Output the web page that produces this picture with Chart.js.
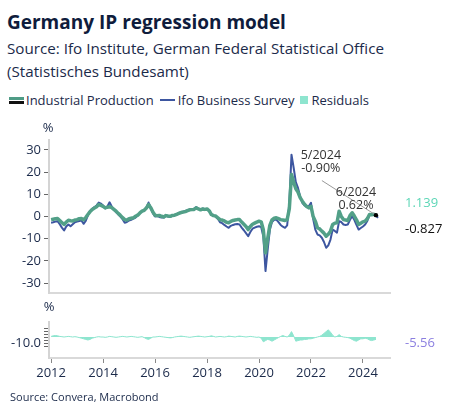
<!DOCTYPE html>
<html>
<head>
<meta charset="utf-8">
<script src="https://cdn.jsdelivr.net/npm/chart.js@4"></script>
<style>
  body { margin: 0; width: 453px; height: 417px; background: #fff; font-family: "Open Sans", sans-serif; color: #1b2a4a; position: relative; overflow: hidden; }
  .title { position: absolute; left: 7px; top: 9px; font-size: 19px; font-weight: 700; color: #0f1c3c; white-space: nowrap; }
  .sub { position: absolute; left: 7px; top: 37px; font-size: 15.2px; line-height: 22.5px; color: #1b2a4a; }
  .legend { position: absolute; left: 9px; top: 91px; font-size: 13px; display: flex; align-items: center; white-space: nowrap; }
  .legend span { display: inline-flex; align-items: center; margin-right: 6px; }
  .ico-ip { width: 15px; height: 7px; margin-right: 2px; background: linear-gradient(#4f9c86 0 3px, #fff 3px 4px, #111 4px 7px); }
  .ico-ifo { width: 15px; height: 2px; margin-right: 3px; background: #3d56a0; }
  .ico-res { width: 8px; height: 8px; margin-right: 3px; background: #8ee5cf; }
  canvas { position: absolute; left: 0; }
  #top { top: 121px; }
  #bot { top: 300px; }
  .source { position: absolute; left: 10px; top: 389px; font-size: 11px; color: #1b2a4a; }
</style>
</head>
<body>
<div class="title">Germany IP regression model</div>
<div class="sub">Source: Ifo Institute, German Federal Statistical Office<br>(Statistisches Bundesamt)</div>
<div class="legend">
  <span><i class="ico-ip"></i>Industrial Production</span>
  <span><i class="ico-ifo"></i>Ifo Business Survey</span>
  <span><i class="ico-res"></i>Residuals</span>
</div>
<canvas id="top" width="453" height="180"></canvas>
<canvas id="bot" width="453" height="90"></canvas>
<div class="source">Source: Convera, Macrobond</div>
<script>
// monthly, starting Jan 2012
const startYear = 2012;
const industrialProduction = [
  -1.4, -1.2, -1.0, -0.9, -1.8, -2.8, -3.6, -2.5, -1.7, -1.9, -2.0, -1.6,
  -1.4, -1.0, -0.9, -1.5, -0.5, 0.9, 2.2, 3.2, 3.8, 4.4, 5.4, 5.0,
  4.6, 3.9, 4.2, 4.4, 4.0, 3.2, 2.4, 1.4, 0.5, -0.5, -1.4, -1.6,
  -1.0, -0.8, -0.6, 0.1, 0.6, 1.6, 2.4, 2.8, 3.8, 5.4, 4.0, 2.0,
  0.6, 0.3, 0.5, 0.1, -0.2, 0.4, 0.2, 0.1, 0.5, 0.6, 1.0, 1.4,
  1.8, 2.0, 2.2, 2.6, 3.0, 3.1, 3.2, 3.9, 3.4, 3.0, 3.4, 3.2,
  3.4, 2.6, 0.9, 0.4, 0.2, -0.6, -1.4, -1.6, -2.0, -2.6, -2.8, -2.2,
  -1.8, -1.6, -1.4, -1.4, -2.5, -3.5, -4.5, -5.9, -4.5, -3.5, -3.0, -2.5,
  -2.1, -2.4, -6.0, -16.4, -10.0, -4.0, -1.5, -0.8, -0.6, -1.0, -1.4, -1.6,
  -1.8, -1.4, 3.5, 18.9, 15.5, 12.5, 11.0, 8.5, 6.9, 5.5, 4.5, 3.9,
  4.6, 0.0, -2.1, -5.1, -5.6, -6.6, -7.5, -8.9, -8.0, -6.6, -3.6, -3.0,
  -2.8, 2.4, 0.0, -1.4, -1.6, -1.8, 0.4, 1.7, 0.2, -1.5, -3.6, -3.0,
  -2.4, -2.1, -1.0, 0.9, 0.8, 1.0, 0.6
];
const ifoSurvey = [
  -2.8, -2.6, -2.3, -2.1, -3.5, -5.0, -6.3, -4.5, -3.6, -4.4, -3.5, -2.6,
  -2.3, -2.0, -1.8, -3.3, -2.0, 0.5, 2.5, 3.5, 4.2, 5.0, 6.3, 5.8,
  5.0, 3.6, 4.5, 6.4, 4.5, 3.0, 2.0, 1.0, 0.0, -1.2, -2.8, -2.5,
  -1.8, -1.5, -1.0, -0.5, 0.5, 1.5, 2.4, 3.0, 4.0, 6.3, 4.0, 1.5,
  0.0, 0.3, -0.2, -0.5, -0.5, 0.3, 0.0, -0.2, 0.3, 0.5, 1.0, 1.6,
  2.0, 2.2, 2.5, 2.8, 3.2, 3.3, 3.5, 4.2, 3.6, 3.0, 3.6, 3.3,
  3.2, 2.4, 1.0, 0.5, 0.0, -1.0, -2.6, -3.0, -3.8, -4.5, -5.1, -4.2,
  -3.8, -3.5, -3.4, -3.6, -5.0, -6.2, -7.5, -8.9, -7.0, -5.5, -5.0, -4.6,
  -4.4, -4.8, -9.0, -24.6, -15.0, -6.0, -2.5, -1.5, -1.4, -2.5, -3.8, -4.6,
  -5.1, -4.0, 6.0, 27.9, 22.0, 15.5, 12.9, 9.0, 6.2, 5.0, 4.8, 4.6,
  6.2, -1.0, -5.9, -8.1, -8.5, -9.6, -11.5, -14.1, -13.0, -10.4, -5.9, -6.5,
  -7.3, -2.1, -2.5, -3.6, -3.8, -3.6, -1.5, 0.1, -1.5, -3.8, -5.9, -5.2,
  -4.5, -3.6, -2.0, 0.6, 0.9, 0.8, 0.2, -0.6
];
const residuals = [
  1, 2, 2.5, 2, 1, 0.5, 0, 0.5, 1, 0.5, 0, 0.5,
  0, -1, -2, -3, -4, -5, -4, -2, -1, 0, 0.5, 0,
  0, -0.5, 0, 1, 0.5, 0, -0.5, 0, 0.5, 1, 0.5, 0,
  0.5, 1, 0.5, 0, -0.5, 0, 0.5, -1, -3, -4, -2, 0,
  0, 0.5, 1, 0.5, 0, -0.5, -1, -1.5, -1, 0, 0.5, 1,
  1.5, 1, 0.5, 0, -0.5, 0, 0.5, 1, 1.5, 1, 0.5, 0,
  0.5, 1, 2, 1, 0, 0.5, 1, 0.5, 0, 0.5, 1.5, 1,
  0.5, 0, 1, 1.5, 1, 0.5, 0, 0.5, 1, 0.5, 0, -0.5,
  0, -2, -8, -6, -4, -5, -7, -5, -3, -1, 1, 2.5,
  1, 0, 3, 9, 2, -7, -6, -5, -5, -4, -4, -3,
  -3, -2, -1, 0, 1, 3, 6, 9, 12, 8, 3, 0,
  1, 4, 1, 0, -0.5, -1, -2, -4, -6, -7, -5, -3,
  -3, -2, -3, -5, -6, -5, -4
];
const yearTicks = [2012, 2014, 2016, 2018, 2020, 2022, 2024];
const mainTicks = [-30, -20, -10, 0, 10, 20, 30];
const residualTicks = [-15, -10, -5, 0, 5, 10, 15];
const notes = [
  { lines: ['5/2024', '-0.90%'], x: 2022.38, y: [27.5, 21.6] },
  { lines: ['6/2024', '0.62%'], x: 2023.73, y: [10.8, 5.0] },
];
const lastValues = [
  { text: '1.139', y: 5.9, color: '#5cd6b6' },
  { text: '-0.827', y: -5.9, color: '#111' },
];

const FONT = '"Open Sans", sans-serif';
const INK = '#1b2a4a';
const xMin = 2011.92, xMax = 2025.04;
const pts = arr => arr.map((v, i) => ({ x: startYear + i / 12, y: v }));
const lastIdx = industrialProduction.length - 1;

// fixed axis width, no extra label padding so the plot area stays where layout.padding puts it
const leftAxis = (ticks, cb) => ({
  position: 'left',
  afterFit: s => { s.width = 49; s.paddingTop = 0; s.paddingBottom = 0; },
  afterBuildTicks: s => { s.ticks = ticks.map(v => ({ value: v })); },
  ticks: { color: INK, font: { family: FONT, size: 13 }, padding: 3, autoSkip: false, callback: cb },
  grid: { drawOnChartArea: false, tickLength: 5, color: '#666' },
  border: { color: '#d4d4d4', width: 2 },
});

const topTexts = {
  id: 'topTexts',
  afterDatasetsDraw(chart) {
    const { ctx, scales: { x, y }, chartArea } = chart;
    ctx.save();
    ctx.font = `13px ${FONT}`;
    ctx.fillStyle = INK;
    ctx.textAlign = 'center';
    ctx.textBaseline = 'middle';
    ctx.fillText('%', chartArea.left - 1, chartArea.top - 12);
    // leader line to last IP point
    const px = x.getPixelForValue(startYear + lastIdx / 12);
    const py = y.getPixelForValue(industrialProduction[lastIdx]);
    ctx.strokeStyle = '#999';
    ctx.lineWidth = 1;
    ctx.beginPath();
    ctx.moveTo(x.getPixelForValue(2022.42), y.getPixelForValue(16.2));
    ctx.lineTo(px, py);
    ctx.stroke();
    ctx.fillStyle = '#000';
    ctx.beginPath();
    ctx.arc(px, py, 2.2, 0, Math.PI * 2);
    ctx.fill();
    ctx.font = `12.5px ${FONT}`;
    ctx.fillStyle = '#333';
    notes.forEach(n => n.lines.forEach((t, i) => ctx.fillText(t, x.getPixelForValue(n.x), y.getPixelForValue(n.y[i]))));
    ctx.textAlign = 'left';
    ctx.font = `13px ${FONT}`;
    lastValues.forEach(l => {
      ctx.fillStyle = l.color;
      ctx.fillText(l.text, chartArea.right + 15, y.getPixelForValue(l.y));
    });
    ctx.restore();
  }
};

new Chart(document.getElementById('top'), {
  type: 'line',
  data: {
    datasets: [
      { label: 'Industrial Production', data: pts(industrialProduction), borderColor: '#52a088', borderWidth: 3.5, borderJoinStyle: 'round', pointRadius: 0, tension: 0, order: 1 },
      { label: 'Ifo Business Survey', data: pts(ifoSurvey), borderColor: '#3d56a0', borderWidth: 2, borderJoinStyle: 'round', pointRadius: 0, tension: 0, order: 2 },
    ]
  },
  options: {
    responsive: false, animation: false, devicePixelRatio: 1,
    layout: { padding: { left: 0, right: 63, top: 19, bottom: 8 } },
    plugins: { legend: { display: false }, tooltip: { enabled: false } },
    scales: {
      x: {
        type: 'linear', min: xMin, max: xMax,
        afterFit: s => { s.height = 0; },
        ticks: { display: false }, grid: { display: false },
        border: { color: '#d9d9d9', width: 2 },
      },
      y: { min: -34.5, max: 34.5, ...leftAxis(mainTicks) },
    }
  },
  plugins: [topTexts]
});

const botTexts = {
  id: 'botTexts',
  afterDatasetsDraw(chart) {
    const { ctx, scales: { y }, chartArea } = chart;
    ctx.save();
    ctx.font = `13px ${FONT}`;
    ctx.fillStyle = INK;
    ctx.textAlign = 'center';
    ctx.textBaseline = 'middle';
    ctx.fillText('%', chartArea.left, 7);
    ctx.textAlign = 'left';
    ctx.fillStyle = '#8b7fe0';
    ctx.fillText('-5.56', chartArea.right + 15, y.getPixelForValue(-10));
    ctx.restore();
  }
};

new Chart(document.getElementById('bot'), {
  type: 'line',
  data: {
    datasets: [
      { label: 'Residuals', data: pts(residuals), borderColor: '#8ee5cf', backgroundColor: '#8ee5cf', borderWidth: 1, pointRadius: 0, fill: 'origin', tension: 0 },
    ]
  },
  options: {
    responsive: false, animation: false, devicePixelRatio: 1,
    layout: { padding: { left: 0, right: 63, top: 22, bottom: 10 } },
    plugins: { legend: { display: false }, tooltip: { enabled: false } },
    scales: {
      x: {
        type: 'linear', min: xMin, max: xMax,
        afterFit: s => { s.height = 22; },
        afterBuildTicks: s => { s.ticks = yearTicks.map(v => ({ value: v })); },
        ticks: { color: INK, font: { family: FONT, size: 13 }, padding: 2, maxRotation: 0, callback: v => String(v) },
        grid: { drawOnChartArea: false, tickLength: 5, color: '#888' },
        border: { color: '#d9d9d9', width: 2 },
      },
      y: { min: -35, max: 25, ...leftAxis(residualTicks, v => v === -10 ? '-10.0' : '') },
    }
  },
  plugins: [botTexts]
});
</script>
</body>
</html>
